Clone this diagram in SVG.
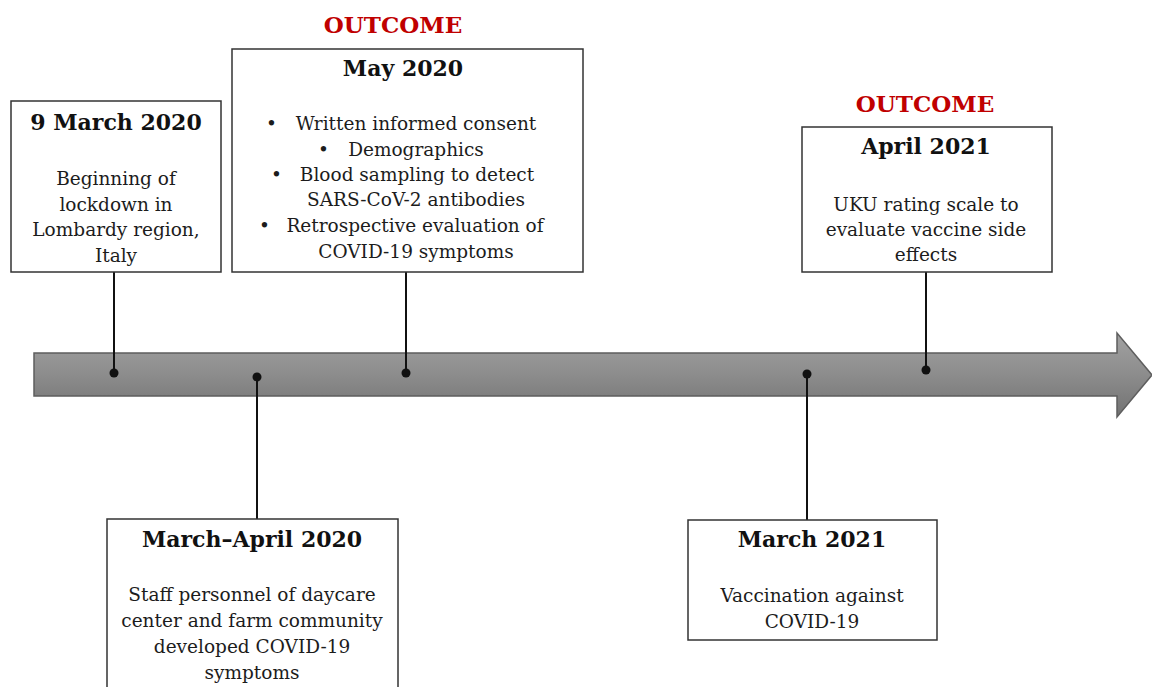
<svg xmlns="http://www.w3.org/2000/svg" width="1152" height="687" viewBox="0 0 1152 687">
<defs>
<linearGradient id="g" x1="0" y1="0" x2="0" y2="1">
<stop offset="0" stop-color="#a2a2a2"/>
<stop offset="0.5" stop-color="#8c8c8c"/>
<stop offset="1" stop-color="#727272"/>
</linearGradient>
<style>
.box{fill:#fff;stroke:#333;stroke-width:1.5}
.t{font-family:"DejaVu Serif","Liberation Serif",serif;font-weight:bold;font-size:22px;fill:#111;text-anchor:middle}
.b{font-family:"DejaVu Serif","Liberation Serif",serif;font-size:18.5px;fill:#1c1c1c;text-anchor:middle}
.bl{font-family:"DejaVu Serif","Liberation Serif",serif;font-size:18.5px;fill:#1c1c1c}
.o{font-family:"DejaVu Serif","Liberation Serif",serif;font-weight:bold;font-size:23px;fill:#c00000;text-anchor:middle}
.c{stroke:#111;stroke-width:2;fill:none}
.d{fill:#111}
</style>
</defs>
<rect width="1152" height="687" fill="#fff"/>
<g id="timeline">
<polygon points="34,353 1117,353 1117,333 1152,375 1117,417 1117,396 34,396" fill="url(#g)" stroke="#5e5e5e" stroke-width="1.5"/>
</g>
<g id="connectors">
<line class="c" x1="114" y1="272" x2="114" y2="373"/>
<circle class="d" cx="114" cy="373" r="4.5"/>
<line class="c" x1="257" y1="377" x2="257" y2="519"/>
<circle class="d" cx="257" cy="377" r="4.5"/>
<line class="c" x1="406" y1="272" x2="406" y2="373"/>
<circle class="d" cx="406" cy="373" r="4.5"/>
<line class="c" x1="807" y1="374" x2="807" y2="520"/>
<circle class="d" cx="807" cy="374" r="4.5"/>
<line class="c" x1="926" y1="272" x2="926" y2="370"/>
<circle class="d" cx="926" cy="370" r="4.5"/>
</g>
<g id="n1">
<rect class="box" x="11" y="101" width="210" height="171"/>
<text class="t" x="116" y="130">9 March 2020</text>
<text class="b" x="116" y="185">Beginning of</text>
<text class="b" x="116" y="211">lockdown in</text>
<text class="b" x="116" y="236">Lombardy region,</text>
<text class="b" x="116" y="262">Italy</text>
</g>
<g id="n2">
<text class="o" x="393" y="33">OUTCOME</text>
<rect class="box" x="232" y="49" width="351" height="223"/>
<text class="t" x="403" y="76">May 2020</text>
<text class="bl" x="266" y="130">•</text>
<text class="b" x="416" y="130">Written informed consent</text>
<text class="bl" x="318" y="156">•</text>
<text class="b" x="416" y="156">Demographics</text>
<text class="bl" x="271" y="181">•</text>
<text class="b" x="417" y="181">Blood sampling to detect</text>
<text class="b" x="416" y="206">SARS-CoV-2 antibodies</text>
<text class="bl" x="259" y="232">•</text>
<text class="b" x="415" y="232">Retrospective evaluation of</text>
<text class="b" x="416" y="258">COVID-19 symptoms</text>
</g>
<g id="n3">
<rect class="box" x="107" y="519" width="291" height="190"/>
<text class="t" x="252" y="547">March–April 2020</text>
<text class="b" x="252" y="601">Staff personnel of daycare</text>
<text class="b" x="252" y="627">center and farm community</text>
<text class="b" x="252" y="653">developed COVID-19</text>
<text class="b" x="252" y="679">symptoms</text>
</g>
<g id="n4">
<rect class="box" x="688" y="520" width="249" height="120"/>
<text class="t" x="812" y="547">March 2021</text>
<text class="b" x="812" y="602">Vaccination against</text>
<text class="b" x="812" y="628">COVID-19</text>
</g>
<g id="n5">
<text class="o" x="925" y="112">OUTCOME</text>
<rect class="box" x="802" y="127" width="250" height="145"/>
<text class="t" x="926" y="154">April 2021</text>
<text class="b" x="926" y="211">UKU rating scale to</text>
<text class="b" x="926" y="236">evaluate vaccine side</text>
<text class="b" x="926" y="261">effects</text>
</g>
</svg>
